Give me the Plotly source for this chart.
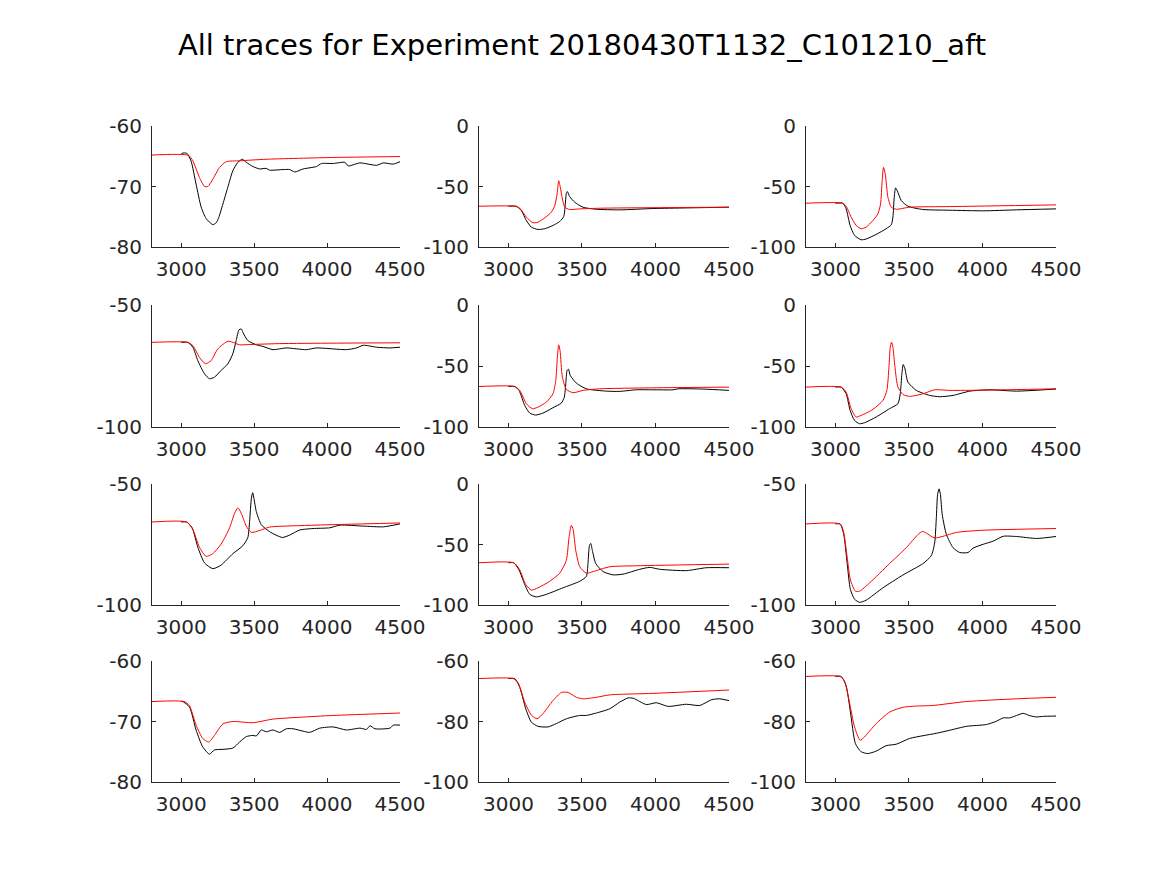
import plotly.graph_objects as go
from plotly.subplots import make_subplots

TITLE = "All traces for Experiment 20180430T1132_C101210_aft"

# --- row 1 ---
p11_black_x = [3000, 3006, 3038, 3068, 3102, 3137, 3171, 3217, 3240, 3258, 3286, 3320, 3354, 3389, 3419, 3446, 3492, 3538, 3583, 3606, 3698, 3744, 3778, 3836, 3927, 3962, 4042, 4122, 4145, 4225, 4340, 4385, 4454, 4500]
p11_black_y = [-64.6, -64.5, -64.5, -65.8, -69.6, -73.4, -75.3, -76.3, -76.0, -75.1, -72.9, -70.1, -67.4, -66.0, -65.5, -66.0, -66.7, -67.1, -67.0, -67.3, -67.2, -67.2, -67.6, -67.1, -66.7, -66.2, -66.2, -66.0, -66.6, -66.1, -66.5, -66.1, -66.3, -65.9]
p11_red_x = [2800, 3050, 3080, 3125, 3160, 3183, 3217, 3263, 3309, 3400, 3583, 4042, 4500]
p11_red_y = [-64.8, -64.85, -65.75, -68.5, -70.0, -70.0, -68.8, -66.85, -65.9, -65.75, -65.5, -65.2, -65.05]

p12_black_x = [3000, 3054, 3088, 3122, 3156, 3201, 3247, 3303, 3349, 3376, 3385, 3394, 3401, 3417, 3451, 3507, 3598, 3757, 3984, 4210, 4500]
p12_black_y = [-66.3, -66.3, -69.9, -78.1, -83.6, -85.5, -84.9, -82.2, -78.9, -74.8, -67.1, -55.6, -54.2, -58.4, -63.0, -67.1, -68.8, -69.3, -68.2, -67.7, -67.1]
p12_red_x = [2800, 3043, 3077, 3122, 3167, 3201, 3247, 3292, 3315, 3331, 3342, 3353, 3367, 3383, 3417, 3485, 3644, 4500]
p12_red_y = [-66.3, -66.3, -67.9, -75.3, -80.0, -79.5, -75.9, -71.2, -65.8, -56.2, -45.2, -50.7, -60.3, -67.1, -69.0, -68.5, -67.9, -67.1]

p13_black_x = [3000, 3050, 3073, 3100, 3130, 3175, 3209, 3277, 3345, 3380, 3391, 3400, 3409, 3420, 3448, 3493, 3595, 3777, 4005, 4232, 4500]
p13_black_y = [-63.8, -63.8, -68.5, -82.2, -90.4, -94.0, -93.4, -89.6, -84.9, -81.6, -75.3, -58.9, -51.2, -53.4, -61.6, -66.3, -69.0, -69.6, -70.1, -69.3, -68.5]
p13_red_x = [2800, 3050, 3073, 3107, 3141, 3175, 3209, 3255, 3289, 3307, 3318, 3327, 3339, 3357, 3380, 3414, 3505, 3777, 4500]
p13_red_y = [-63.8, -63.8, -66.3, -75.3, -82.2, -84.9, -83.6, -78.1, -72.6, -64.4, -45.2, -34.2, -39.7, -58.9, -67.1, -68.8, -67.1, -66.6, -65.2]

# --- row 2 ---
p21_black_x = [3000, 3045, 3080, 3114, 3160, 3194, 3228, 3274, 3320, 3354, 3377, 3396, 3412, 3423, 3457, 3515, 3561, 3629, 3721, 3858, 3927, 4133, 4202, 4248, 4340, 4431, 4500]
p21_black_y = [-65.3, -65.3, -67.3, -72.8, -78.2, -80.2, -79.6, -76.8, -74.1, -70.0, -64.6, -60.2, -59.8, -61.2, -64.6, -66.3, -67.0, -68.3, -67.6, -68.3, -67.6, -68.3, -67.6, -66.5, -67.3, -67.6, -67.3]
p21_red_x = [2800, 3045, 3080, 3125, 3167, 3205, 3251, 3320, 3354, 3400, 3469, 3698, 4500]
p21_red_y = [-65.3, -65.3, -66.6, -71.4, -74.1, -72.8, -68.0, -64.85, -65.3, -66.3, -66.2, -65.8, -65.5]

p22_black_x = [3000, 3043, 3072, 3111, 3145, 3185, 3235, 3303, 3360, 3380, 3390, 3399, 3408, 3421, 3462, 3530, 3666, 3757, 3870, 3984, 4120, 4154, 4324, 4500]
p22_black_y = [-66.8, -66.8, -70.0, -82.3, -88.6, -90.2, -88.6, -84.2, -80.4, -75.5, -64.6, -53.7, -52.6, -57.8, -64.0, -68.7, -70.6, -70.8, -69.5, -69.5, -69.5, -68.7, -68.9, -70.0]
p22_red_x = [2800, 3043, 3077, 3122, 3163, 3201, 3258, 3303, 3322, 3333, 3342, 3351, 3367, 3394, 3440, 3508, 3621, 4500]
p22_red_y = [-66.8, -66.8, -70.0, -80.9, -85.0, -83.7, -79.6, -72.8, -61.9, -42.8, -32.7, -37.3, -59.1, -69.2, -71.9, -70.0, -68.7, -67.3]

p23_black_x = [3000, 3039, 3073, 3100, 3130, 3164, 3198, 3277, 3368, 3425, 3441, 3452, 3461, 3473, 3493, 3550, 3641, 3709, 3800, 3914, 4050, 4232, 4500]
p23_black_y = [-67.3, -67.3, -72.8, -86.4, -94.6, -97.3, -96.5, -91.8, -85.0, -80.9, -72.8, -56.4, -48.8, -52.3, -63.2, -70.0, -74.1, -75.2, -74.1, -70.6, -69.5, -70.6, -68.9]
p23_red_x = [2800, 3039, 3073, 3107, 3141, 3175, 3255, 3323, 3350, 3364, 3373, 3382, 3391, 3405, 3425, 3459, 3505, 3595, 3675, 3777, 4005, 4500]
p23_red_y = [-67.3, -67.3, -71.4, -85.0, -91.8, -90.5, -85.6, -78.2, -70.0, -51.0, -34.6, -30.5, -34.6, -51.0, -67.3, -73.3, -74.9, -72.8, -69.5, -70.0, -69.8, -68.7]

# --- row 3 ---
p31_black_x = [3000, 3038, 3075, 3114, 3160, 3217, 3274, 3354, 3423, 3457, 3469, 3481, 3490, 3499, 3515, 3549, 3606, 3693, 3744, 3813, 3904, 4019, 4088, 4248, 4385, 4500]
p31_black_y = [-65.7, -65.7, -68.1, -76.1, -82.6, -85.0, -83.5, -78.8, -75.5, -72.1, -65.4, -56.0, -53.6, -56.0, -61.4, -66.8, -69.7, -72.1, -71.1, -69.0, -68.4, -68.1, -67.0, -67.4, -67.7, -66.5]
p31_red_x = [2800, 3038, 3080, 3125, 3171, 3217, 3274, 3332, 3366, 3389, 3412, 3446, 3481, 3538, 3606, 3813, 4500]
p31_red_y = [-65.7, -65.7, -68.8, -76.1, -79.9, -78.8, -74.8, -68.1, -62.1, -59.8, -62.1, -67.4, -70.0, -69.2, -67.8, -67.2, -66.1]

p32_black_x = [3000, 3036, 3072, 3111, 3145, 3190, 3258, 3371, 3485, 3530, 3541, 3551, 3560, 3571, 3594, 3644, 3712, 3780, 3893, 3961, 4029, 4210, 4346, 4500]
p32_black_y = [-65.1, -65.1, -71.0, -83.1, -91.2, -93.3, -91.2, -85.8, -80.4, -76.4, -65.7, -50.9, -49.1, -55.0, -65.7, -72.4, -75.1, -74.5, -70.5, -68.9, -70.5, -71.6, -69.2, -69.2]
p32_red_x = [2800, 3036, 3077, 3118, 3156, 3201, 3281, 3349, 3394, 3412, 3428, 3440, 3458, 3485, 3530, 3576, 3689, 3871, 4500]
p32_red_y = [-65.1, -65.1, -71.0, -83.1, -87.7, -85.8, -80.4, -73.7, -63.0, -44.2, -34.3, -37.5, -55.0, -68.4, -73.7, -72.4, -68.4, -67.6, -66.2]

p33_black_x = [3000, 3032, 3057, 3080, 3102, 3130, 3164, 3209, 3323, 3459, 3595, 3652, 3675, 3686, 3695, 3705, 3714, 3727, 3755, 3800, 3845, 3902, 3936, 4005, 4073, 4141, 4232, 4368, 4500]
p33_black_y = [-66.5, -66.5, -70.9, -82.9, -93.6, -97.6, -98.9, -98.0, -92.9, -87.6, -82.9, -79.6, -74.3, -64.3, -54.3, -52.0, -54.3, -62.9, -70.9, -76.3, -78.3, -78.3, -76.5, -74.9, -73.6, -71.6, -71.7, -72.5, -71.7]
p33_red_x = [2800, 3032, 3055, 3080, 3102, 3136, 3164, 3232, 3368, 3482, 3561, 3591, 3618, 3675, 3732, 3823, 4005, 4500]
p33_red_y = [-66.5, -66.5, -69.6, -80.3, -89.6, -94.3, -94.3, -90.9, -82.9, -76.3, -70.9, -69.6, -70.3, -72.3, -71.6, -70.0, -69.1, -68.4]

# --- row 4 ---
p41_black_x = [3000, 3011, 3057, 3102, 3148, 3194, 3228, 3286, 3354, 3400, 3446, 3492, 3515, 3549, 3583, 3629, 3675, 3721, 3767, 3836, 3881, 3950, 4042, 4133, 4225, 4271, 4294, 4328, 4431, 4454, 4500]
p41_black_y = [-66.7, -66.7, -67.6, -71.4, -74.2, -75.4, -74.7, -74.6, -74.4, -73.4, -72.5, -72.3, -72.4, -71.4, -71.7, -71.4, -71.8, -71.2, -71.2, -71.6, -71.8, -71.1, -70.9, -71.4, -71.1, -71.3, -70.7, -71.2, -71.1, -70.6, -70.6]
p41_red_x = [2800, 3022, 3057, 3102, 3148, 3189, 3228, 3286, 3354, 3492, 3629, 3813, 4042, 4500]
p41_red_y = [-66.7, -66.7, -67.4, -70.6, -72.8, -73.4, -72.3, -70.4, -70.0, -70.2, -69.6, -69.3, -69.0, -68.6]

p42_black_x = [3000, 3043, 3077, 3118, 3156, 3201, 3269, 3326, 3394, 3485, 3530, 3598, 3689, 3757, 3814, 3848, 3938, 4006, 4086, 4210, 4301, 4381, 4437, 4500]
p42_black_y = [-65.8, -65.8, -68.7, -75.8, -80.2, -81.6, -81.8, -80.7, -79.1, -78.0, -78.0, -77.2, -75.8, -73.6, -72.2, -72.3, -74.4, -73.8, -75.0, -74.3, -74.7, -72.8, -72.5, -73.1]
p42_red_x = [2800, 3031, 3065, 3111, 3156, 3195, 3235, 3303, 3360, 3405, 3462, 3508, 3598, 3689, 3984, 4500]
p42_red_y = [-65.8, -65.8, -67.1, -73.6, -77.9, -79.1, -77.4, -73.1, -70.4, -70.4, -72.0, -72.5, -72.0, -71.2, -70.7, -69.6]

p43_black_x = [3000, 3039, 3073, 3102, 3136, 3175, 3220, 3277, 3345, 3414, 3505, 3595, 3686, 3777, 3891, 4027, 4095, 4141, 4186, 4232, 4277, 4323, 4368, 4414, 4500]
p43_black_y = [-65.1, -65.1, -68.2, -76.9, -87.3, -90.0, -90.6, -89.8, -88.0, -87.5, -85.6, -84.7, -83.9, -82.9, -81.6, -81.0, -79.9, -78.8, -78.8, -78.0, -77.3, -78.1, -78.5, -78.3, -78.2]
p43_red_x = [2800, 3032, 3061, 3095, 3130, 3168, 3198, 3277, 3368, 3459, 3550, 3664, 3891, 4232, 4500]
p43_red_y = [-65.1, -65.1, -66.5, -73.6, -81.8, -86.2, -85.1, -80.7, -76.9, -75.3, -74.9, -74.7, -73.4, -72.5, -72.0]

panels = [
    [(p11_black_x, p11_black_y, p11_red_x, p11_red_y),
     (p12_black_x, p12_black_y, p12_red_x, p12_red_y),
     (p13_black_x, p13_black_y, p13_red_x, p13_red_y)],
    [(p21_black_x, p21_black_y, p21_red_x, p21_red_y),
     (p22_black_x, p22_black_y, p22_red_x, p22_red_y),
     (p23_black_x, p23_black_y, p23_red_x, p23_red_y)],
    [(p31_black_x, p31_black_y, p31_red_x, p31_red_y),
     (p32_black_x, p32_black_y, p32_red_x, p32_red_y),
     (p33_black_x, p33_black_y, p33_red_x, p33_red_y)],
    [(p41_black_x, p41_black_y, p41_red_x, p41_red_y),
     (p42_black_x, p42_black_y, p42_red_x, p42_red_y),
     (p43_black_x, p43_black_y, p43_red_x, p43_red_y)],
]

y_ranges = [
    [(-80, -60), (-100, 0), (-100, 0)],
    [(-100, -50), (-100, 0), (-100, 0)],
    [(-100, -50), (-100, 0), (-100, -50)],
    [(-80, -60), (-100, -60), (-100, -60)],
]
y_ticks = [
    [[-80, -70, -60], [-100, -50, 0], [-100, -50, 0]],
    [[-100, -50], [-100, -50, 0], [-100, -50, 0]],
    [[-100, -50], [-100, -50, 0], [-100, -50]],
    [[-80, -70, -60], [-100, -80, -60], [-100, -80, -60]],
]
x_ticks = [3000, 3500, 4000, 4500]

W, H = 1167, 875
OFF = 8  # page body margin
col_px = [(152, 400), (479, 729), (806, 1056)]
row_px = [(126, 247), (305, 427), (484, 605), (661, 782)]

fig = make_subplots(rows=4, cols=3)
axcol = "#262626"

for r in range(4):
    for c in range(3):
        bx, by, rx, ry = panels[r][c]
        fig.add_trace(go.Scatter(x=bx, y=by, mode="lines",
                                 line=dict(color="black", width=1, shape="spline", smoothing=0.6),
                                 showlegend=False, hoverinfo="skip"), row=r + 1, col=c + 1)
        fig.add_trace(go.Scatter(x=rx, y=ry, mode="lines",
                                 line=dict(color="red", width=1, shape="spline", smoothing=0.6),
                                 showlegend=False, hoverinfo="skip"), row=r + 1, col=c + 1)
        x0, x1 = col_px[c]
        t, b = row_px[r]
        yt = y_ticks[r][c]
        fig.update_xaxes(domain=[(x0 - OFF) / W, (x1 - OFF) / W], range=[2800, 4500],
                         tickvals=x_ticks, ticktext=[str(v) for v in x_ticks],
                         showline=True, linecolor=axcol, linewidth=1, ticks="inside",
                         ticklen=4, tickcolor=axcol, showgrid=False, zeroline=False,
                         automargin=False, ticklabelstandoff=4,
                         tickfont=dict(size=20, color=axcol), row=r + 1, col=c + 1)
        fig.update_yaxes(domain=[1 - (b - OFF) / H, 1 - (t - OFF) / H], range=list(y_ranges[r][c]),
                         tickvals=yt, ticktext=[str(v) for v in yt],
                         showline=True, linecolor=axcol, linewidth=1, ticks="inside",
                         ticklen=4, tickcolor=axcol, showgrid=False, zeroline=False,
                         automargin=False, ticklabelstandoff=5,
                         tickfont=dict(size=20, color=axcol), row=r + 1, col=c + 1)

fig.update_layout(
    width=W, height=H,
    margin=dict(l=0, r=0, t=0, b=0, autoexpand=False),
    paper_bgcolor="white", plot_bgcolor="white",
    font=dict(family="DejaVu Sans", color=axcol),
    title=dict(text=TITLE, x=(582 - OFF) / W, xanchor="center", y=1 - (45 - OFF) / H,
               yanchor="middle", font=dict(size=29, color="black")),
)

fig.write_html("out.html")
